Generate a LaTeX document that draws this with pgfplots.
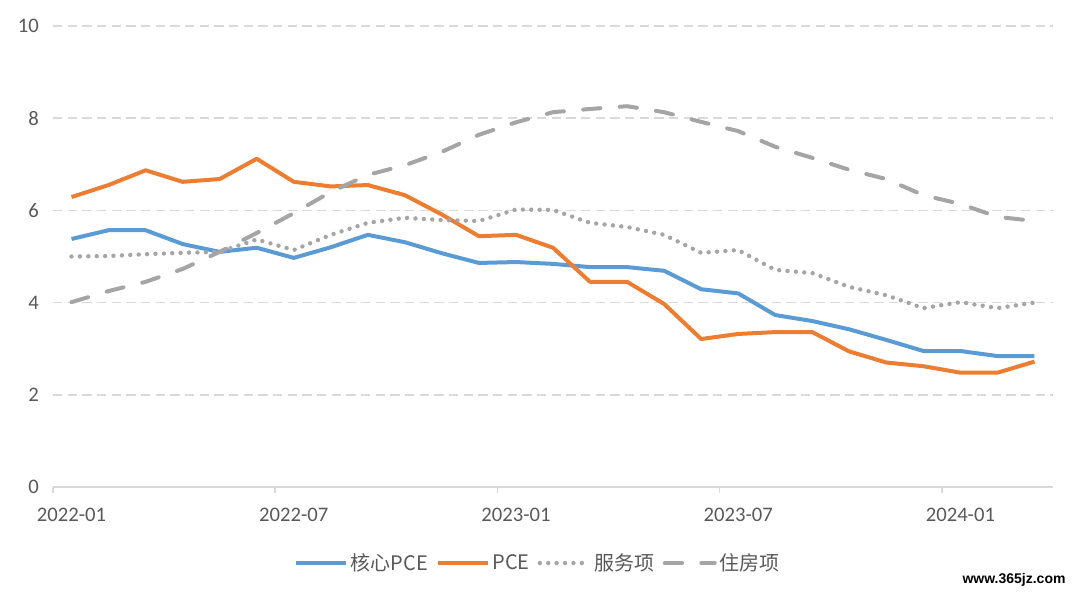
\documentclass[border=0pt]{standalone}
\usepackage{pgfplots}
\pgfplotsset{compat=1.18}
\usepackage{fontspec}
\setmainfont{Carlito}
\newfontfamily\cjk{Noto Sans CJK SC}
\newfontfamily\wm{Liberation Sans}
\definecolor{cblue}{HTML}{5B9BD5}
\definecolor{corange}{HTML}{ED7D31}
\definecolor{cgray}{HTML}{A5A5A5}
\definecolor{ctext}{HTML}{595959}
\definecolor{cgrid}{HTML}{D9D9D9}
\begin{document}
\begin{tikzpicture}
\path[use as bounding box] (-39.75pt,-81.75pt) rectangle (770.25pt,365.25pt);
\begin{axis}[
  scale only axis,
  width=750pt, height=345.75pt,
  xmin=-0.5, xmax=26.5, ymin=0, ymax=10,
  axis x line*=bottom, axis y line*=left,
  x axis line style={draw=cgrid, line width=1.1pt, -},
  y axis line style={draw=none},
  ytick={0,2,4,6,8,10},
  xtick={0,6,12,18,24},
  xticklabels={2022-01,2022-07,2023-01,2023-07,2024-01},
  major tick length=0pt,
  tick align=outside,
  extra x ticks={-0.5,5.5,11.5,17.5,23.5},
  extra x tick labels={},
  extra x tick style={major tick length=4.5pt, tick style={draw=cgrid, line width=1.1pt}},
  ymajorgrids,
  grid style={draw=cgrid, line width=1.1pt, dash pattern=on 7pt off 4pt},
  tick label style={font=\fontsize{15.5}{18}\selectfont, text=ctext},
  /pgf/number format/assume math mode=true,
  yticklabel style={anchor=east, inner sep=0pt, xshift=-10.5pt},
  xticklabel style={anchor=north, inner sep=0pt, yshift=-15.5pt},
  legend columns=4,
  legend style={at={(0.485,-0.165)}, anchor=center, draw=none, fill=none,
    font=\cjk\fontsize{15}{18}\selectfont, text=ctext,
    /tikz/every even column/.append style={column sep=4pt},
    /tikz/every odd column/.append style={column sep=0pt},
    nodes={inner sep=2pt}},
  legend image code/.code={\draw[#1] (0pt,0pt) -- (37.5pt,0pt);},
  every axis plot/.append style={line join=round},
]
\addplot[cblue, line width=3pt] coordinates {
(0,5.38)(1,5.57)(2,5.57)(3,5.27)(4,5.10)(5,5.19)(6,4.97)(7,5.20)(8,5.47)(9,5.31)
(10,5.07)(11,4.86)(12,4.88)(13,4.84)(14,4.77)(15,4.77)(16,4.69)(17,4.29)(18,4.20)
(19,3.73)(20,3.60)(21,3.42)(22,3.19)(23,2.95)(24,2.95)(25,2.84)(26,2.84)};
\addlegendentry{核心PCE}
\addplot[corange, line width=3pt] coordinates {
(0,6.29)(1,6.55)(2,6.87)(3,6.62)(4,6.68)(5,7.12)(6,6.62)(7,6.52)(8,6.55)(9,6.33)
(10,5.91)(11,5.44)(12,5.47)(13,5.19)(14,4.45)(15,4.45)(16,3.97)(17,3.21)(18,3.32)
(19,3.36)(20,3.36)(21,2.94)(22,2.70)(23,2.62)(24,2.48)(25,2.48)(26,2.72)};
\addlegendentry{PCE}
\addplot[cgray, line width=3.3pt, line cap=round, dash pattern=on 0pt off 6.3pt] coordinates {
(0,5.00)(1,5.01)(2,5.05)(3,5.08)(4,5.10)(5,5.37)(6,5.14)(7,5.47)(8,5.73)(9,5.84)
(10,5.79)(11,5.77)(12,6.02)(13,6.01)(14,5.73)(15,5.64)(16,5.47)(17,5.08)(18,5.14)
(19,4.71)(20,4.64)(21,4.34)(22,4.16)(23,3.88)(24,4.01)(25,3.88)(26,4.00)};
\addlegendentry{服务项}
\addplot[cgray, line width=3pt, line cap=round, dash pattern=on 13pt off 14.5pt] coordinates {
(0,4.01)(1,4.25)(2,4.45)(3,4.73)(4,5.10)(5,5.51)(6,5.94)(7,6.40)(8,6.77)(9,6.98)
(10,7.27)(11,7.64)(12,7.91)(13,8.13)(14,8.20)(15,8.26)(16,8.13)(17,7.92)(18,7.72)
(19,7.38)(20,7.14)(21,6.88)(22,6.68)(23,6.33)(24,6.14)(25,5.86)(26,5.77)};
\addlegendentry{住房项}
\end{axis}
\node[font=\wm\bfseries\fontsize{10.5}{12}\selectfont, text=black] at (720.75pt,-69.75pt) {www.365jz.com};
\end{tikzpicture}
\end{document}
